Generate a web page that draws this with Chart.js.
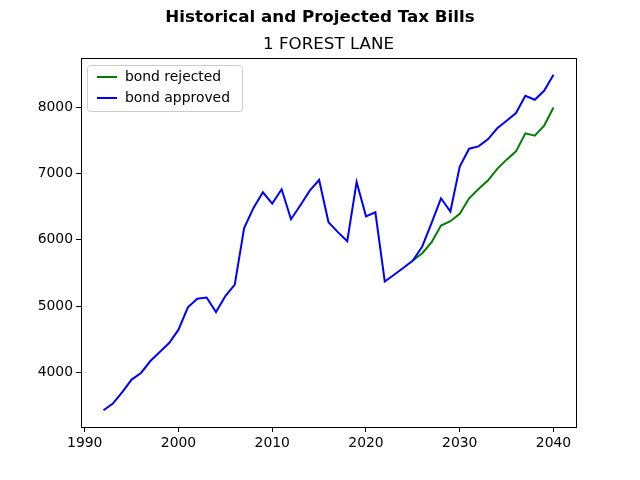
<!DOCTYPE html>
<html>
<head>
<meta charset="utf-8">
<script src="https://cdn.jsdelivr.net/npm/chart.js@4/dist/chart.umd.min.js"></script>
<style>
  html, body { margin: 0; padding: 0; background: #fff; }
  #wrap { width: 640px; height: 480px; }
</style>
</head>
<body>
<div id="wrap"><canvas id="chart" width="640" height="480"></canvas></div>
<script>
var years = [];
for (var yr = 1992; yr <= 2040; yr++) years.push(yr);

var approved = [3428, 3528, 3700, 3890, 3990, 4170, 4306, 4441, 4643, 4980,
    5110, 5128, 4908, 5150, 5322, 6176, 6480, 6715, 6545, 6761,
    6309, 6520, 6741, 6901, 6264, 6114, 5978, 6871, 6352, 6414,
    5370, 5471, 5577, 5687, 5898, 6254, 6625, 6425, 7102, 7373,
    7408, 7514, 7680, 7795, 7910, 8172, 8111, 8247, 8488];

var rejected = [null, null, null, null, null, null, null, null, null, null,
    null, null, null, null, null, null, null, null, null, null,
    null, null, null, null, null, null, null, null, null, null,
    null, null, null, 5687, 5797, 5962, 6214, 6279, 6390, 6625,
    6766, 6892, 7068, 7208, 7333, 7604, 7570, 7720, 7995];

var xTicks = [1990, 2000, 2010, 2020, 2030, 2040];
var yTicks = [4000, 5000, 6000, 7000, 8000];

function toPoints(vals) {
    return years.map(function (y, i) { return { x: y, y: vals[i] }; });
}

var tickFont = { family: "DejaVu Sans", size: 13.9 };

// titles, frame and legend drawn like the matplotlib figure
var figurePlugin = {
    id: "figure",
    afterDraw: function (chart) {
        var ctx = chart.ctx;
        var a = chart.chartArea;
        ctx.save();
        ctx.strokeStyle = "#000";
        ctx.lineWidth = 1;
        ctx.strokeRect(Math.round(a.left) + 0.5, Math.round(a.top) + 0.5,
            Math.round(a.right - a.left), Math.round(a.bottom - a.top));

        ctx.fillStyle = "#000";
        ctx.textAlign = "center";
        ctx.textBaseline = "alphabetic";
        ctx.font = "bold 16.7px 'DejaVu Sans'";
        ctx.fillText("Historical and Projected Tax Bills", 320, 22);
        ctx.font = "16.7px 'DejaVu Sans'";
        ctx.fillText("1 FOREST LANE", (a.left + a.right) / 2, 49);

        // legend box
        var lx = a.left + 6, ly = a.top + 7, lw = 155, lh = 46;
        ctx.fillStyle = "rgba(255,255,255,0.8)";
        ctx.strokeStyle = "#cccccc";
        ctx.beginPath();
        ctx.roundRect(lx + 0.5, ly + 0.5, lw, lh, 3);
        ctx.fill();
        ctx.stroke();
        ctx.font = "13.9px 'DejaVu Sans'";
        ctx.textAlign = "left";
        ctx.textBaseline = "middle";
        chart.data.datasets.forEach(function (ds, i) {
            var cy = ly + 12 + i * 21;
            ctx.strokeStyle = ds.borderColor;
            ctx.lineWidth = 2;
            ctx.beginPath();
            ctx.moveTo(lx + 10, cy);
            ctx.lineTo(lx + 30, cy);
            ctx.stroke();
            ctx.fillStyle = "#000";
            ctx.fillText(ds.label, lx + 38, cy);
        });
        ctx.restore();
    }
};

new Chart(document.getElementById("chart"), {
    type: "line",
    data: {
        datasets: [
            {
                label: "bond rejected",
                data: toPoints(rejected),
                borderColor: "#008000",
                borderWidth: 2,
                pointRadius: 0,
                fill: false,
                order: 1,
            },
            {
                label: "bond approved",
                data: toPoints(approved),
                borderColor: "#0000ff",
                borderWidth: 2,
                pointRadius: 0,
                fill: false,
                order: 0,
            },
        ],
    },
    options: {
        responsive: false,
        animation: false,
        layout: { padding: { left: 0, right: 64, top: 58, bottom: 0 } },
        plugins: {
            legend: { display: false },
            title: { display: false },
            tooltip: { enabled: false },
        },
        scales: {
            x: {
                type: "linear",
                min: 1989.6,
                max: 2042.4,
                afterBuildTicks: function (scale) {
                    scale.ticks = xTicks.map(function (v) { return { value: v }; });
                },
                afterFit: function (scale) { scale.height = 53; },
                grid: { display: true, drawOnChartArea: false, drawTicks: true, tickLength: 5, color: "#000" },
                border: { display: true, color: "#000" },
                ticks: {
                    color: "#000",
                    font: tickFont,
                    padding: 3,
                    maxRotation: 0,
                    callback: function (v) { return String(v); },
                },
            },
            y: {
                type: "linear",
                min: 3175,
                max: 8741,
                afterBuildTicks: function (scale) {
                    scale.ticks = yTicks.map(function (v) { return { value: v }; });
                },
                afterFit: function (scale) { scale.width = 81; },
                grid: { display: true, drawOnChartArea: false, drawTicks: true, tickLength: 5, color: "#000" },
                border: { display: true, color: "#000" },
                ticks: {
                    color: "#000",
                    font: tickFont,
                    padding: 3,
                    callback: function (v) { return String(v); },
                },
            },
        },
    },
    plugins: [figurePlugin],
});
</script>
</body>
</html>
